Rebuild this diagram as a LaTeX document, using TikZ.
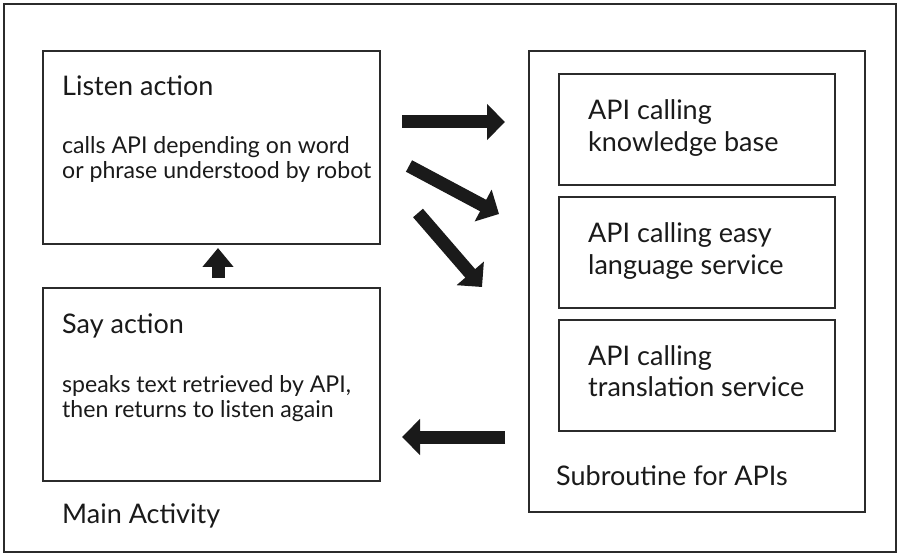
\documentclass[tikz,border=0pt]{standalone}
\usepackage{fontspec}
\setmainfont{Lato}
\usetikzlibrary{arrows.meta}
\definecolor{edge}{HTML}{2B2B2B}
\definecolor{ink}{HTML}{1A1A1A}
\tikzset{
  frame/.style={draw=edge, line width=2pt},
  box/.style={draw=edge, line width=2pt, anchor=north west, inner sep=0pt},
  title/.style={anchor=base west, inner sep=0pt, font=\fontsize{27}{32}\selectfont, text=ink},
  body/.style={anchor=base west, inner sep=0pt, font=\fontsize{23.1}{28}\selectfont, text=ink},
  bigarrow/.style={draw=ink, line width=13pt, line cap=butt, -{Triangle[width=35pt,length=18pt]}},
  smallarrow/.style={draw=ink, line width=13pt, line cap=butt, -{Triangle[width=30pt,length=19pt]}},
}
\begin{document}
\begin{tikzpicture}[x=1pt,y=-1pt]
  \useasboundingbox (0,0) rectangle (900,556);
  \fill[white] (0,0) rectangle (900,556);
  % outer frame
  \draw[frame] (4,4) rectangle (896,552);

  % main activity boxes
  \node[box, minimum width=337pt, minimum height=193pt] (listen) at (42,50) {};
  \node[box, minimum width=337pt, minimum height=193pt] (say) at (42,287) {};
  \node[title] (listenT) at (62,96) {Listen action};
  \node[body] (listenB1) at (62,154) {calls API depending on word};
  \node[body] (listenB2) at (62,179) {or phrase understood by robot};
  \node[title] (sayT) at (62,333) {Say action};
  \node[body] (sayB1) at (62,392) {speaks text retrieved by API,};
  \node[body] (sayB2) at (62,417) {then returns to listen again};
  \node[title] (mainT) at (62,523) {Main Activity};

  % subroutine container and its API boxes
  \node[box, minimum width=336pt, minimum height=461pt] (sub) at (528,50) {};
  \node[box, minimum width=276pt, minimum height=111pt] (kb) at (558,73) {};
  \node[box, minimum width=276pt, minimum height=111pt] (easy) at (558,196) {};
  \node[box, minimum width=276pt, minimum height=111pt] (trans) at (558,319) {};
  \node[title] (kbT1) at (588,120) {API calling};
  \node[title] (kbT2) at (588,152) {knowledge base};
  \node[title] (easyT1) at (588,243) {API calling easy};
  \node[title] (easyT2) at (588,275) {language service};
  \node[title] (transT1) at (588,365) {API calling};
  \node[title] (transT2) at (588,396) {translation service};
  \node[title] (subT) at (556,485) {Subroutine for APIs};

  % arrow end points
  \coordinate (a1s) at (402,122);  \coordinate (a1e) at (505,122);
  \coordinate (a2s) at (409,166);  \coordinate (a2e) at (499,214);
  \coordinate (a3s) at (418,213);  \coordinate (a3e) at (482,287);
  \coordinate (a4s) at (505,437);  \coordinate (a4e) at (402,437);
  \coordinate (a5s) at (218,278);  \coordinate (a5e) at (218,248);

  \draw[bigarrow] (a1s) -- (a1e);
  \draw[bigarrow] (a2s) -- (a2e);
  \draw[bigarrow] (a3s) -- (a3e);
  \draw[bigarrow] (a4s) -- (a4e);
  \draw[smallarrow] (a5s) -- (a5e);
\end{tikzpicture}
\end{document}
